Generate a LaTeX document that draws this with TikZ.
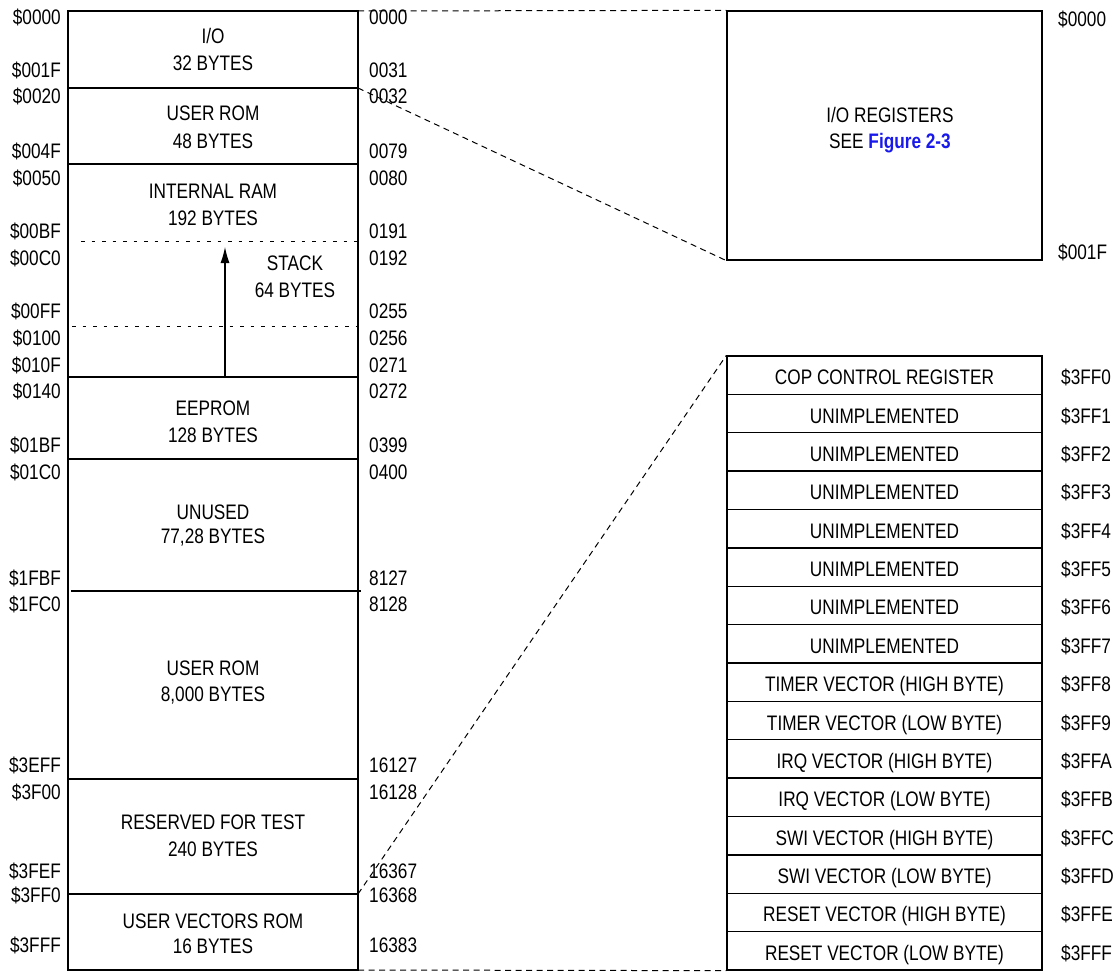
\documentclass[tikz,border=0pt]{standalone}
\usepackage{fontspec}
\setmainfont{Liberation Sans}[FakeStretch=0.82]
\usetikzlibrary{arrows.meta}
\definecolor{linkblue}{RGB}{25,25,235}

\begin{document}
\begin{tikzpicture}[x=1pt,y=-1pt,
  every node/.style={font=\fontsize{21}{25}\selectfont, inner sep=0pt},
  mapline/.style={line width=1.3pt},
  stackline/.style={line width=0.9pt, dash pattern=on 3.5pt off 7pt},
  zoomline/.style={line width=1pt, dash pattern=on 6pt off 4.5pt},
  vecrow/.style={draw, line width=1.3pt, minimum width=315pt, minimum height=38.375pt,
    text height=19pt, text depth=0pt}]
\useasboundingbox (0,0) rectangle (1115,971);

% memory map
\draw[mapline] (68,11) rectangle (358,970);
\foreach \yy in {88,164,377,459,779,894} {\draw[mapline] (68,\yy) -- (358,\yy);}
\draw[mapline] (71,591) -- (361,591);
\draw[stackline] (81,241) -- (357,241);
\draw[stackline] (72,326) -- (358,326);
\draw[-{Latex[length=16pt,width=9pt]}, line width=1.1pt] (225,377) -- (225,247);

\foreach \nm/\ya/\yb/\ta/\tb in {io/44/71/{I/O}/32 BYTES,
    urom/121/148/USER ROM/48 BYTES,
    iram/198/225/INTERNAL RAM/192 BYTES,
    eeprom/415/442/EEPROM/128 BYTES,
    unused/519/543/UNUSED/{77,28 BYTES},
    urom2/675/701/USER ROM/{8,000 BYTES},
    test/829/856/RESERVED FOR TEST/240 BYTES,
    uvec/928/953/USER VECTORS ROM/16 BYTES}
  {\node[anchor=base] (\nm-a) at (213,\ya) {\ta};
   \node[anchor=base] (\nm-b) at (213,\yb) {\tb};}
\node[anchor=base] (stack-a) at (295,270) {STACK};
\node[anchor=base] (stack-b) at (295,297) {64 BYTES};

% addresses
\foreach \yy/\hx/\dc in {25/0000/0000, 78/001F/0031, 104/0020/0032, 158/004F/0079,
    185/0050/0080, 238/00BF/0191, 265/00C0/0192, 318/00FF/0255, 345/0100/0256,
    372/010F/0271, 398/0140/0272, 452/01BF/0399, 479/01C0/0400, 585/1FBF/8127,
    611/1FC0/8128, 772/3EFF/16127, 799/3F00/16128, 878/3FEF/16367, 902/3FF0/16368,
    952/3FFF/16383}
  {\node[anchor=base east] (hx\hx) at (61,\yy) {\$\hx};
   \node[anchor=base west] (dc\dc) at (369,\yy) {\dc};}

% i/o registers
\node[draw, mapline, minimum width=315pt, minimum height=249pt] (regbox) at (884.5,135.5) {};
\node[anchor=base] (regtxt) at (890,122) {I/O REGISTERS};
\node[anchor=base] (regsee) at (890,148) {SEE \textcolor{linkblue}{\bfseries Figure 2-3}};
\node[anchor=base west] (regtop) at (1058,27) {\$0000};
\node[anchor=base west] (regend) at (1058,259) {\$001F};

% vectors
\foreach \i/\hx/\txt in {0/0/COP CONTROL REGISTER, 1/1/UNIMPLEMENTED, 2/2/UNIMPLEMENTED,
    3/3/UNIMPLEMENTED, 4/4/UNIMPLEMENTED, 5/5/UNIMPLEMENTED, 6/6/UNIMPLEMENTED,
    7/7/UNIMPLEMENTED, 8/8/TIMER VECTOR (HIGH BYTE), 9/9/TIMER VECTOR (LOW BYTE),
    10/A/IRQ VECTOR (HIGH BYTE), 11/B/IRQ VECTOR (LOW BYTE), 12/C/SWI VECTOR (HIGH BYTE),
    13/D/SWI VECTOR (LOW BYTE), 14/E/RESET VECTOR (HIGH BYTE), 15/F/RESET VECTOR (LOW BYTE)}
  {\node[vecrow] (vec\i) at (884.5,375.19+38.375*\i) {\txt};
   \node[anchor=base west] (adr\i) at (1061,384.69+38.375*\i) {\$3FF\hx};}

% zoom lines
\coordinate (iotop) at (358,11);
\coordinate (ioend) at (358,88);
\coordinate (vectop) at (358,894);
\coordinate (mapend) at (358,970);
\draw[zoomline] (iotop) -- (regbox.north west);
\draw[zoomline] (ioend) -- (regbox.south west);
\draw[zoomline] (vectop) -- (vec0.north west);
\draw[zoomline] (mapend) -- (vec15.south west);
\end{tikzpicture}
\end{document}
